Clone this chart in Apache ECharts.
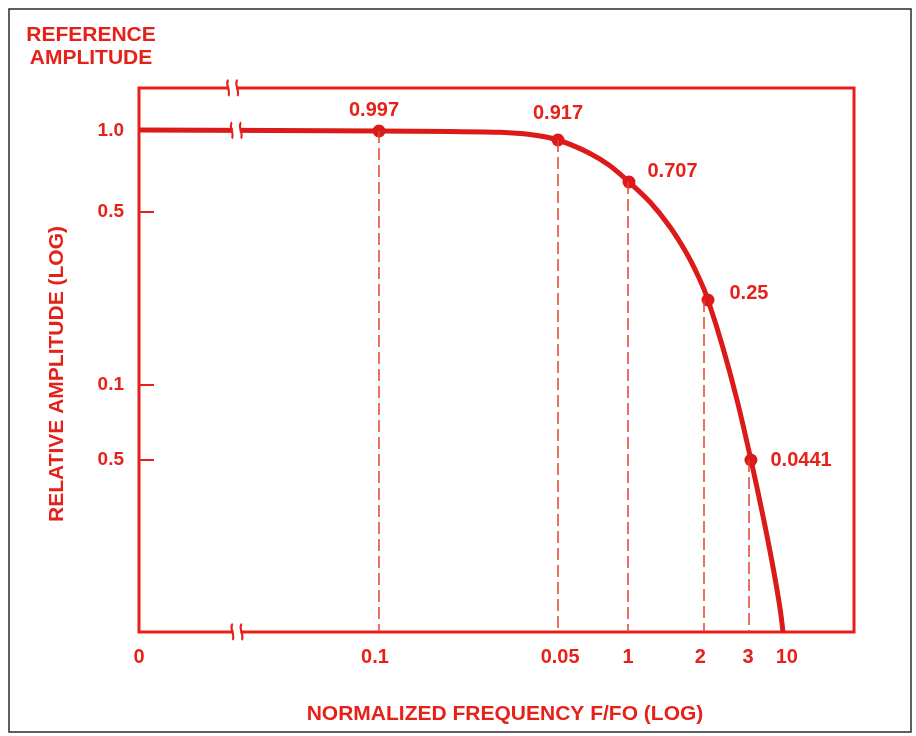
<!DOCTYPE html>
<html>
<head>
<meta charset="utf-8">
<script src="https://cdn.jsdelivr.net/npm/echarts@6/dist/echarts.min.js"></script>
<style>html,body{margin:0;padding:0;background:#fff;}#chart{width:916px;height:736px;}</style>
</head>
<body>
<div id="chart"></div>
<script>
// Axis units: both axes are drawn on a 0-100 positional scale (the original chart's log scales are irregular)
var xTickLabels = ['0', '0.1', '0.05', '1', '2', '3', '10'];
var xTickLabelAt = [0, 33.0, 58.9, 68.4, 78.5, 85.2, 90.6];
var xDropAt = [33.6, 58.5, 68.4, 79.0, 85.3];

var yTickLabels = ['1.0', '0.5', '0.1', '0.5'];
var yTickAt = [92.1, 77.2, 45.4, 31.6];

var pointX = [33.57, 58.60, 68.53, 79.58, 85.59];
var pointY = [92.10, 90.44, 82.72, 61.03, 31.62];
var pointLabels = ['0.997', '0.917', '0.707', '0.25', '0.0441'];

var curveX = [0, 33.57, 43.50, 50.49, 54.69, 58.60, 63.08, 65.87, 68.53, 71.47, 74.27, 76.64, 78.46, 79.58, 81.68, 83.64, 85.59, 87.27, 88.67, 89.65, 90.07];
var curveY = [92.3, 92.10, 91.99, 91.86, 91.45, 90.44, 87.98, 85.70, 82.72, 79.04, 74.45, 69.49, 64.71, 61.03, 52.21, 42.65, 31.62, 21.32, 11.95, 4.41, 0];

var breakX = [13.1, 13.6, 13.7];
var breakY = [100, 92.2, 0];

var RED = '#e5211a';
var CURVE = '#dc1a1a';
var FONT = '"Liberation Sans", Arial, sans-serif';

var labelPlacement = [
  {position: 'top', distance: 4, offset: [-5, 0]},
  {position: 'top', distance: 10, offset: [0, 0]},
  {position: 'right', distance: 12, offset: [0, -11]},
  {position: 'right', distance: 15, offset: [0, -7]},
  {position: 'right', distance: 13, offset: [0, 0]}
];

function lookup(vals, labels, v) {
  for (var i = 0; i < vals.length; i++) if (Math.abs(vals[i] - v) < 1e-6) return labels[i];
  return '';
}

var curveData = curveX.map(function (x, i) { return [x, curveY[i]]; });
var pointData = pointX.map(function (x, i) {
  return {
    value: [x, pointY[i]],
    label: Object.assign({show: true, formatter: pointLabels[i]}, labelPlacement[i])
  };
});
var dropLines = xDropAt.map(function (x, i) {
  return [{coord: [x, pointY[i]]}, {coord: [x, 0]}];
});
var breakData = breakX.map(function (x, i) { return [x, breakY[i]]; });

var chart = echarts.init(document.getElementById('chart'), null, {renderer: 'canvas'});
chart.setOption({
  animation: false,
  backgroundColor: '#fff',
  textStyle: {fontFamily: FONT},
  grid: {left: 139, top: 88, width: 715, height: 544, show: true, borderColor: RED, borderWidth: 3, backgroundColor: 'transparent'},
  xAxis: {
    type: 'value', min: 0, max: 100,
    axisLine: {show: false}, splitLine: {show: false}, axisTick: {show: false},
    axisLabel: {
      customValues: xTickLabelAt, margin: 15, color: RED, fontSize: 20, fontWeight: 'bold', fontFamily: FONT,
      formatter: function (v) { return lookup(xTickLabelAt, xTickLabels, v); }
    }
  },
  yAxis: {
    type: 'value', min: 0, max: 100,
    axisLine: {show: false}, splitLine: {show: false},
    axisTick: {show: true, inside: true, length: 15, customValues: yTickAt.slice(1), lineStyle: {color: RED, width: 2}},
    axisLabel: {
      customValues: yTickAt, margin: 15, color: RED, fontSize: 19, fontWeight: 'bold', fontFamily: FONT,
      formatter: function (v) { return lookup(yTickAt, yTickLabels, v); }
    }
  },
  series: [
    {
      type: 'line', data: curveData, smooth: 0.3, symbol: 'none', z: 3,
      lineStyle: {color: CURVE, width: 5},
      markLine: {
        silent: true, symbol: 'none', label: {show: false},
        lineStyle: {color: '#e2432e', width: 1.5, type: [12, 5]},
        data: dropLines
      }
    },
    {
      type: 'scatter', data: pointData, symbol: 'circle', symbolSize: 13, z: 4,
      itemStyle: {color: CURVE, opacity: 1},
      label: {color: RED, fontSize: 20, fontWeight: 'bold', fontFamily: FONT, opacity: 1}
    },
    {
      type: 'scatter', data: breakData, symbol: 'rect', symbolSize: [7, 16], z: 5,
      itemStyle: {color: '#fff', opacity: 1}
    },
    {
      type: 'scatter', data: breakData, symbol: 'path://M2,0 C-1,4 4,10 2,16 M9,0 C6,4 11,10 9,16', symbolSize: [11, 16], z: 6,
      itemStyle: {color: 'rgba(0,0,0,0)', borderColor: RED, borderWidth: 2.5, opacity: 1}
    }
  ],
  graphic: [
    {type: 'rect', shape: {x: 9, y: 9, width: 902, height: 723}, style: {fill: 'none', stroke: '#2a2a2a', lineWidth: 1.5}, z: 0},
    {type: 'text', x: 91, y: 35, style: {text: 'REFERENCE', fill: RED, font: 'bold 21px ' + FONT, textAlign: 'center', textVerticalAlign: 'middle'}},
    {type: 'text', x: 91, y: 58, style: {text: 'AMPLITUDE', fill: RED, font: 'bold 21px ' + FONT, textAlign: 'center', textVerticalAlign: 'middle'}},
    {type: 'text', x: 57, y: 374, rotation: Math.PI / 2, style: {text: 'RELATIVE AMPLITUDE (LOG)', fill: RED, font: 'bold 21px ' + FONT, textAlign: 'center', textVerticalAlign: 'middle'}},
    {type: 'text', x: 505, y: 714, style: {text: 'NORMALIZED FREQUENCY F/FO (LOG)', fill: RED, font: 'bold 21px ' + FONT, textAlign: 'center', textVerticalAlign: 'middle'}}
  ]
});
</script>
</body>
</html>
